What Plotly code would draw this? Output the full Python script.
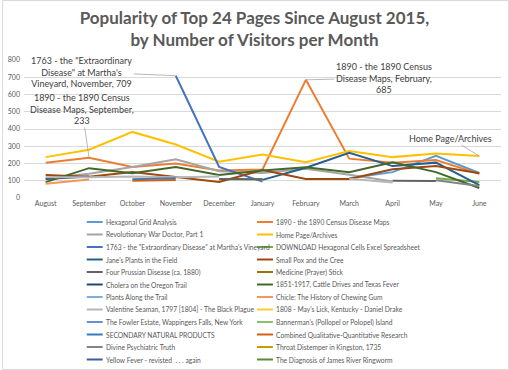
import plotly.graph_objects as go

months = ["August", "September", "October", "November", "December", "January",
          "February", "March", "April", "May", "June"]

names = [
    "Hexagonal Grid Analysis",
    "1890 - the 1890 Census Disease Maps",
    "Revolutionary War Doctor, Part 1",
    "Home Page/Archives",
    "1763 - the \"Extraordinary Disease\" at Martha's Vineyard",
    "DOWNLOAD Hexagonal Cells Excel Spreadsheet",
    "Jane's Plants in the Field",
    "Small Pox and the Cree",
    "Four Prussian Disease (ca. 1880)",
    "Medicine (Prayer) Stick",
    "Cholera on the Oregon Trail",
    "1851-1917, Cattle Drives and Texas Fever",
    "Plants Along the Trail",
    "Chicle: The History of Chewing Gum",
    "Valentine Seaman, 1797 [1804] - The Black Plague",
    "1808 - May's Lick, Kentucky - Daniel Drake",
    "The Fowler Estate, Wappingers Falls, New York",
    "Bannerman's (Pollopel or Polopel) Island",
    "SECONDARY NATURAL PRODUCTS",
    "Combined Qualitative-Quantitative Research",
    "Divine Psychiatric Truth",
    "Throat Distemper in Kingston, 1735",
    "Yellow Fever - revisted  . . . again",
    "The Diagnosis of James River Ringworm",
]

colors = ["#5B9BD5", "#ED7D31", "#A5A5A5", "#FFC000", "#4472C4", "#70AD47",
          "#255E91", "#9E480E", "#636363", "#997300", "#264478", "#43682B",
          "#7CAFDD", "#F1975A", "#B7B7B7", "#FFCD33", "#698ED0", "#8CC168",
          "#327DC2", "#D26012", "#848484", "#CC9A00", "#3A5DA0", "#5A8A39"]

N = None
hexagonal      = [N, N, N, N, N, N, N, 115, 150, 245, 145]
census1890     = [205, 233, 180, 200, 160, 165, 685, 228, 205, 220, 140]
revwar         = [115, 140, 180, 225, 155, 145, 170, 135, 95, N, N]
homepage       = [237, 280, 383, 310, 210, 252, 207, 272, 237, 258, 243]
extraordinary  = [N, N, N, 709, 180, 95, N, N, N, N, N]
download_hex   = [N, N, N, N, 108, 108, N, N, N, 115, 93]
janes_plants   = [N, N, N, N, N, 105, 175, 262, 185, 205, 75]
smallpox       = [133, 123, 150, 120, 93, 162, 110, 110, 167, 185, 143]
prussian       = [N, N, N, N, 110, 108, N, N, 100, 98, N]
medicine       = [N, N, N, N, N, N, N, N, N, N, N]
cholera        = [110, 125, N, N, N, N, N, N, N, N, N]
cattle         = [92, 173, 143, 180, 133, 160, 178, 150, 207, 150, 58]
plants_trail   = [N, N, N, N, N, N, N, N, N, N, N]
chicle         = [82, 107, N, N, N, N, N, N, N, N, N]
valentine      = [120, 120, 125, 120, 125, N, N, 112, 90, N, N]
mayslick       = [N, N, N, N, N, N, N, N, N, N, N]
fowler         = [N, N, N, N, N, N, N, N, N, N, N]
bannerman      = [N, N, N, N, N, N, N, N, N, N, N]
secondary      = [N, N, 108, 115, N, N, N, N, N, N, N]
combined       = [N, N, 100, 105, N, N, N, N, N, N, N]
divine         = [N, N, N, N, N, N, N, N, N, 103, 70]
throat         = [N, N, N, N, N, N, N, N, N, N, N]
yellowfever    = [N, N, N, N, N, N, N, N, N, N, N]
ringworm       = [N, N, N, N, N, N, N, N, N, N, N]

series = [hexagonal, census1890, revwar, homepage, extraordinary, download_hex,
          janes_plants, smallpox, prussian, medicine, cholera, cattle,
          plants_trail, chicle, valentine, mayslick, fowler, bannerman,
          secondary, combined, divine, throat, yellowfever, ringworm]

W, H = 509, 370
L, R, T, B = 22, 8, 60, 172
pw, ph = W - L - R, H - T - B


def px_x(x):
    return (x - L) / pw


def px_y(y):
    return (H - B - y) / ph


fig = go.Figure()
for name, vals, col in zip(names, series, colors):
    fig.add_trace(go.Scatter(x=months, y=vals, name=name, mode="lines",
                             line=dict(color=col, width=2),
                             connectgaps=False, showlegend=False))

txt = "#404040"
lead = "#A6A6A6"
annos = [
    dict(x="November", y=709, text="1763 - the \"Extraordinary<br>Disease\" at Martha's<br>Vineyard, November, 709",
         ax=-94, ay=-4),
    dict(x="September", y=233, text="1890 - the 1890 Census<br>Disease Maps, September,<br>233",
         ax=-7, ay=-49),
    dict(x="February", y=685, text="1890 - the 1890 Census<br>Disease Maps, February,<br>685",
         ax=78, ay=-2),
    dict(x="June", y=243, text="Home Page/Archives", ax=-29, ay=-18),
]
for a in annos:
    fig.add_annotation(xref="x", yref="y", showarrow=True, arrowhead=0,
                       arrowwidth=0.8, arrowcolor=lead,
                       font=dict(size=9, color=txt, family="Lato"), **a)

# legend (two columns, Excel style)
shapes = []
row0, rstep = 222, 12.5
for i, (name, col) in enumerate(zip(names, colors)):
    c, r = i % 2, i // 2
    x0 = 85 if c == 0 else 256
    y = row0 + r * rstep
    shapes.append(dict(type="line", xref="paper", yref="paper",
                       x0=px_x(x0), x1=px_x(x0 + 16), y0=px_y(y), y1=px_y(y),
                       line=dict(color=col, width=2)))
    fig.add_annotation(xref="paper", yref="paper", x=px_x(x0 + 17), y=px_y(y),
                       xanchor="left", yanchor="middle", showarrow=False,
                       text=name, font=dict(size=6.7, color="#595959", family="Lato"))

shapes.append(dict(type="rect", xref="paper", yref="paper",
                   x0=px_x(0.5), x1=px_x(W - 0.5), y0=px_y(H - 0.5), y1=px_y(0.5),
                   line=dict(color="#D9D9D9", width=1), layer="below"))

fig.update_layout(
    width=W, height=H,
    margin=dict(l=L, r=R, t=T, b=B),
    paper_bgcolor="white", plot_bgcolor="white",
    font=dict(family="Lato", color="#595959"),
    title=dict(text="<b>Popularity of Top 24 Pages Since August 2015,<br>by Number of Visitors per Month</b>",
               x=0.5, xanchor="center", y=0.935, yanchor="top",
               font=dict(size=17, color="#595959", family="Lato")),
    shapes=shapes,
    showlegend=False,
)
fig.update_xaxes(type="category", range=[-0.5, 10.5], showgrid=False,
                 showline=False, zeroline=False, ticks="",
                 tickfont=dict(size=7, color="#595959"))
fig.update_yaxes(range=[0, 800], dtick=100, showgrid=True, gridcolor="#D9D9D9",
                 gridwidth=1, zeroline=False, showline=False, ticks="",
                 ticklabelstandoff=3,
                 tickfont=dict(size=7, color="#595959"))

fig.write_html("out.html", config={"displayModeBar": False},
               post_script="document.body.style.margin='0';")
